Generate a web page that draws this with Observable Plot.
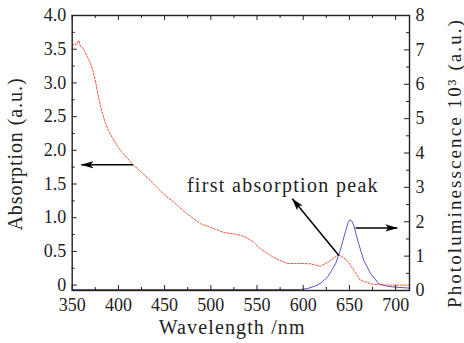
<!DOCTYPE html>
<html><head><meta charset="utf-8">
<script src="https://cdn.jsdelivr.net/npm/d3@7"></script>
<script src="https://cdn.jsdelivr.net/npm/@observablehq/plot@0.6"></script>
<style>
body{margin:0;background:#fff}
#chart svg, #chart svg text { font-family: "Liberation Serif", "DejaVu Serif", "Noto Serif", serif !important; }
</style>
</head><body><div id="chart"></div>
<script>
// Absorption (left axis, a.u.)
const absWavelength = [350,352.5,355,357,359,361,363,366,369.5,372,375,378,382,386,390,395,402,416,431,449,460,474,489,499.5,514,525,532,539,546,553.5,568,575,582.6,600.6,608,618.7,629.5,636.8,640,647.6,654.8,662,676,695,715];
const absValue = [3.55,3.58,3.57,3.63,3.54,3.53,3.48,3.40,3.30,3.20,3.04,2.82,2.58,2.40,2.27,2.15,2.0,1.785,1.60,1.35,1.23,1.06,0.91,0.86,0.78,0.76,0.74,0.70,0.64,0.54,0.41,0.365,0.32,0.32,0.315,0.28,0.365,0.44,0.44,0.365,0.22,0.07,0.01,0.0,0.0];
// Photoluminescence (right axis, x10^3 a.u.)
const plWavelength = [350,400,450,500,550,597,605,615,620,626,630,635,640,643,646,648.5,650.5,652.5,654.8,657,660,665.6,673,682,690,698,715];
const plValue = [0.03,0.03,0.03,0.03,0.03,0.03,0.06,0.15,0.24,0.38,0.55,0.78,1.16,1.45,1.75,1.97,2.06,2.02,1.89,1.65,1.36,0.87,0.49,0.19,0.13,0.10,0.07];
// Tick labels
const xTicks = [350,400,450,500,550,600,650,700];
const absTicks = [0,0.5,1.0,1.5,2.0,2.5,3.0,3.5,4.0];
const plTicks = [0,1,2,3,4,5,6,7,8];
// Texts
const xLabel = "Wavelength /nm";
const leftLabel = "Absorption (a.u.)";
const rightLabel = "Photoluminesscence 10³ (a.u.)";
const noteText = "first absorption peak";
// Annotation arrows (data units; axis says which scale y uses)
const arrowX1 = [416, 656.7, 638.6];
const arrowY1 = [1.785, 1.82, 0.44];
const arrowX2 = [360, 701.8, 588.2];
const arrowY2 = [1.785, 1.82, 1.28];
const arrowAxis = ["abs", "pl", "abs"];
const notePos = {x: 578, y: 1.378};

const absDomain = [-0.08, 4];
const plMax = 8;
const plToAbs = v => absDomain[0] + v * (absDomain[1] - absDomain[0]) / plMax;

const absData = absWavelength.map((w, i) => ({w, v: absValue[i]}));
const plData = plWavelength.map((w, i) => ({w, v: plToAbs(plValue[i])}));
const arrowData = arrowX1.map((x1, i) => {
  const f = arrowAxis[i] === "pl" ? plToAbs : (v => v);
  return {x1, y1: f(arrowY1[i]), x2: arrowX2[i], y2: f(arrowY2[i])};
});

const W = 464, H = 343, mL = 71.7, mR = 55, mT = 15, mB = 53;
const ph = H - mT - mB, pw = W - mL - mR;
const xMaj = d3.range(350, 716, 50), xMin = d3.range(375, 716, 50);
const yMaj = absTicks, yMin = d3.range(0.25, 4, 0.5);
const rMaj = plTicks.map(plToAbs), rMin = d3.range(0.5, 8, 1).map(plToAbs);
const ink = "#222";
const maj = 5, mn = 3;
const serif = "'Liberation Serif', 'DejaVu Serif', 'Noto Serif', serif";

const chart = Plot.plot({
  width: W, height: H,
  marginLeft: mL, marginRight: mR, marginTop: mT, marginBottom: mB,
  style: {fontFamily: serif, background: "white", color: ink},
  x: {domain: [350, 715]},
  y: {domain: absDomain},
  marks: [
    Plot.line(plData, {x: "w", y: "v", stroke: "#5a55c8", strokeWidth: 1}),
    Plot.line(absData, {x: "w", y: "v", stroke: "#f2553f", strokeWidth: 1, strokeDasharray: "2,1.6"}),
    // inward ticks
    Plot.tickX(xMaj, {x: d => d, insetTop: ph - maj, stroke: ink}),
    Plot.tickX(xMin, {x: d => d, insetTop: ph - mn, stroke: ink}),
    Plot.tickX(xMaj, {x: d => d, insetBottom: ph - maj, stroke: ink}),
    Plot.tickX(xMin, {x: d => d, insetBottom: ph - mn, stroke: ink}),
    Plot.tickY(yMaj, {y: d => d, insetRight: pw - maj, stroke: ink}),
    Plot.tickY(yMin, {y: d => d, insetRight: pw - mn, stroke: ink}),
    Plot.tickY(rMaj, {y: d => d, insetLeft: pw - maj, stroke: ink}),
    Plot.tickY(rMin, {y: d => d, insetLeft: pw - mn, stroke: ink}),
    Plot.frame({stroke: ink, strokeWidth: 1.4}),
    Plot.axisX({ticks: xTicks, tickSize: 0, tickPadding: 8, fontSize: 18, label: null}),
    Plot.axisY({ticks: absTicks, tickSize: 0, tickPadding: 6, fontSize: 18, label: null,
      tickFormat: d => d === 0 ? "0" : d.toFixed(1)}),
    Plot.axisY({anchor: "right", ticks: rMaj, tickSize: 0, tickPadding: 6, fontSize: 18, label: null,
      tickFormat: (d, i) => String(plTicks[i])}),
    Plot.link(arrowData, {x1: "x1", y1: "y1", x2: "x2", y2: "y2", stroke: "black", strokeWidth: 1.5}),
    Plot.text([noteText], {x: notePos.x, y: notePos.y, text: d => d, fontSize: 20, textAnchor: "middle", lineAnchor: "bottom", fill: ink}),
    Plot.text([xLabel], {frameAnchor: "bottom", text: d => d, dy: 43, dx: -8.7, fontSize: 20, textAnchor: "middle", lineAnchor: "bottom", fill: ink}),
    Plot.text([leftLabel], {frameAnchor: "left", text: d => d, dx: -56.7, dy: 1, rotate: -90, fontSize: 20, textAnchor: "middle", lineAnchor: "middle", fill: ink}),
    Plot.text([rightLabel], {frameAnchor: "right", text: d => d, dx: 45.5, dy: 10, rotate: -90, fontSize: 19, textAnchor: "middle", lineAnchor: "middle", fill: ink})
  ]
});

const svg = d3.select(chart);
svg.attr("font-family", serif);
const defs = svg.append("defs");
defs.append("marker").attr("id", "ah").attr("viewBox", "0 -5 13 10")
  .attr("refX", 12).attr("refY", 0).attr("markerWidth", 13).attr("markerHeight", 10)
  .attr("markerUnits", "userSpaceOnUse").attr("orient", "auto")
  .append("path").attr("d", "M0,-3.6L12.5,0L0,3.6L3,0Z").attr("fill", "black");
svg.selectAll("g[aria-label=link] path").attr("marker-end", "url(#ah)");
document.getElementById("chart").append(chart);

// stretch labels to the reference's lengths with letter-spacing
const lengths = {[xLabel]: 147, [leftLabel]: 153, [rightLabel]: 290, [noteText]: 192};
svg.selectAll("text").each(function() {
  const t = this.textContent;
  if (lengths[t] && this.childElementCount === 0) {
    const natural = this.getComputedTextLength();
    const sp = (lengths[t] - natural) / t.length;
    this.style.letterSpacing = sp + "px";
  }
});
</script>
</body></html>
